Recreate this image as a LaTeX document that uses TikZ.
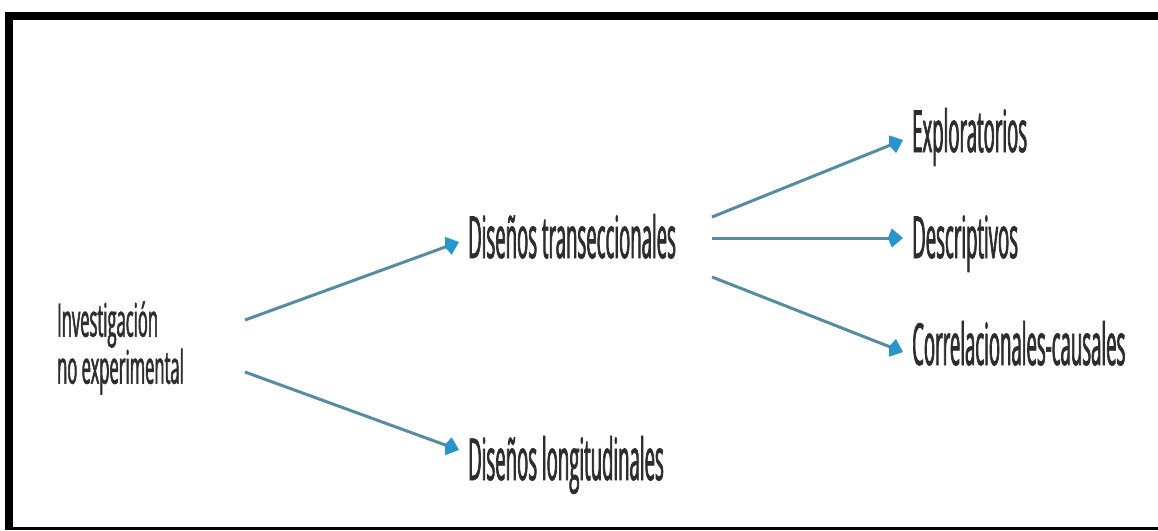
\documentclass[tikz,border=0pt]{standalone}
\usepackage{fontspec}
\usetikzlibrary{arrows.meta, positioning}
\setmainfont{Open Sans}
\newfontfamily\termfont[FakeStretch=0.32,FakeBold=1.2]{Open Sans}
\newfontfamily\rootfont[FakeStretch=0.36,FakeBold=1.2]{Open Sans}
\definecolor{linkgray}{RGB}{85,140,160}
\definecolor{tipblue}{RGB}{40,150,205}
\definecolor{inkgray}{RGB}{45,45,45}
\tikzstyle{term} = [inner sep=0pt, text=inkgray, anchor=base west, font=\termfont\fontsize{58}{60}\selectfont]
\tikzstyle{root} = [inner sep=0pt, text=inkgray, anchor=west, align=left, font=\rootfont\fontsize{46}{47}\selectfont]
\tikzstyle{link} = [draw=linkgray, line width=3pt, -{Kite[length=15pt,width=19pt,color=tipblue]}]

\begin{document}
\begin{tikzpicture}[x=1pt,y=-1pt]
  \useasboundingbox (0,0) rectangle (1158,530);
  % frame
  \fill (5,12) rectangle (1158,20);
  \fill (5,12) rectangle (13,530);
  \fill (13,527) rectangle (1158,530);

  \node[root] (inv) at (57,348) {Investigación\\no experimental};
  \node[term] (trans) at (468,258) {Diseños transeccionales};
  \node[term] (longi) at (468,480) {Diseños longitudinales};
  \node[term] (explo) at (912,152) {Exploratorios};
  \node[term] (descr) at (912,258) {Descriptivos};
  \node[term] (corre) at (912,365) {Correlacionales-causales};

  \coordinate (inv-up) at (245,320);
  \coordinate (inv-down) at (245,372);
  \coordinate (trans-up) at (712,217);
  \coordinate (trans-mid) at (712,238);
  \coordinate (trans-down) at (712,277);

  \draw[link] (inv-up) -- ([xshift=-9pt,yshift=16pt]trans.base west);
  \draw[link] (inv-down) -- ([xshift=-9pt,yshift=30pt]longi.base west);
  \draw[link] (trans-up) -- ([xshift=-9pt,yshift=12pt]explo.base west);
  \draw[link] (trans-mid) -- ([xshift=-9pt,yshift=20pt]descr.base west);
  \draw[link] (trans-down) -- ([xshift=-9pt,yshift=13pt]corre.base west);
\end{tikzpicture}
\end{document}
